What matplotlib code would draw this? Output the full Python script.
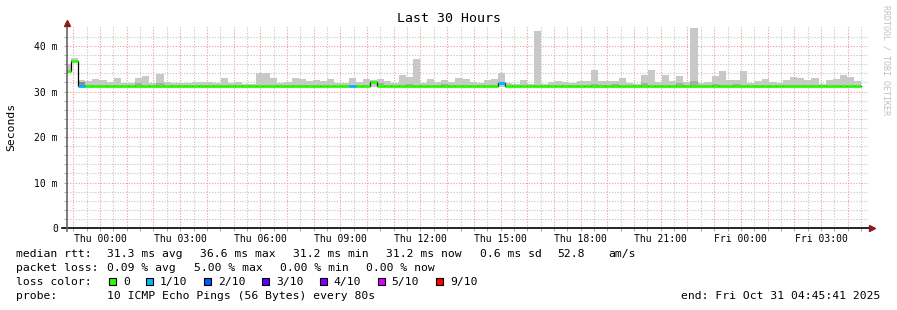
import matplotlib
matplotlib.use("Agg")
import matplotlib.pyplot as plt
import numpy as np
from matplotlib.patches import Rectangle

plt.rcParams['font.family'] = ['DejaVu Sans Mono', 'DejaVu Sans']

W, H = 897, 310

# ---- data: one value per 960 s bin (ms); bin 0 is the partial one at the left edge
BIN_H = 960 / 3600.0
FIRST_BIN_H = 0.15
SPAN_H = 30.0

smoke_hi = [
    36.0, 37.4, 32.5, 32.3, 32.75, 32.5, 32.1, 33.0, 31.8, 31.8,
    33.0, 33.4, 31.8, 33.85, 32.1, 31.8, 31.8, 31.8, 32.1, 32.1,
    32.1, 31.8, 33.0, 31.8, 32.1, 31.65, 31.65, 34.1, 34.1, 33.0,
    31.8, 32.1, 33.0, 32.75, 32.3, 32.5, 32.3, 32.75, 31.8, 31.8,
    33.0, 32.1, 32.75, 32.5, 32.75, 32.3, 31.8, 33.6, 33.2, 37.1,
    31.8, 32.75, 32.1, 32.5, 32.1, 33.0, 32.75, 32.1, 31.8, 32.5,
    32.75, 34.1, 31.8, 31.65, 32.5, 31.65, 43.2, 31.65, 32.1, 32.3,
    32.1, 31.8, 32.3, 32.3, 34.7, 32.3, 32.3, 32.3, 33.0, 31.8,
    31.65, 33.6, 34.7, 32.1, 33.6, 32.3, 33.4, 32.1, 44.0, 31.8,
    32.1, 33.4, 34.5, 32.5, 32.5, 34.4, 31.8, 32.3, 32.75, 32.1,
    31.8, 32.5, 33.2, 33.0, 32.5, 33.0, 31.65, 32.5, 32.75, 33.6,
    33.2, 32.3,
]
smoke_lo = [34.4, 36.5] + [31.0] * 110

median = [
    34.6, 36.6, 31.2, 31.2, 31.2, 31.2, 31.2, 31.2, 31.2, 31.2,
    31.2, 31.2, 31.2, 31.2, 31.2, 31.2, 31.2, 31.2, 31.2, 31.2,
    31.2, 31.2, 31.2, 31.2, 31.2, 31.2, 31.2, 31.2, 31.2, 31.2,
    31.2, 31.2, 31.2, 31.2, 31.2, 31.2, 31.2, 31.2, 31.2, 31.2,
    31.2, 31.2, 31.2, 32.0, 31.2, 31.2, 31.2, 31.2, 31.2, 31.2,
    31.2, 31.2, 31.2, 31.2, 31.2, 31.2, 31.2, 31.2, 31.2, 31.2,
    31.2, 31.9, 31.2, 31.2, 31.2, 31.2, 31.2, 31.2, 31.2, 31.2,
    31.2, 31.2, 31.2, 31.2, 31.2, 31.2, 31.2, 31.2, 31.2, 31.2,
    31.2, 31.2, 31.2, 31.2, 31.2, 31.2, 31.2, 31.2, 31.2, 31.2,
    31.2, 31.2, 31.2, 31.2, 31.2, 31.2, 31.2, 31.2, 31.2, 31.2,
    31.2, 31.2, 31.2, 31.2, 31.2, 31.2, 31.2, 31.2, 31.2, 31.2,
    31.2, 31.2,
]

# darker inner smoke (pings close to the median), top edge in ms
dark_hi = {2: 32.0, 10: 31.9, 13: 31.9, 44: 31.8, 48: 31.7, 53: 31.7,
           74: 31.7, 77: 31.7, 81: 31.8, 86: 31.8, 88: 32.3, 91: 31.7, 94: 31.7}

# loss class per bin (index into loss_colors); all zero except these bins
loss_bins = {2: 1, 40: 1, 61: 1}

loss_labels = ['0', '1/10', '2/10', '3/10', '4/10', '5/10', '9/10']
loss_colors = ['#26ff00', '#00b8ff', '#0059ff', '#5e00ff', '#7e00ff', '#dd00ff', '#ff0000']

tick_labels = ['Thu 00:00', 'Thu 03:00', 'Thu 06:00', 'Thu 09:00', 'Thu 12:00',
               'Thu 15:00', 'Thu 18:00', 'Thu 21:00', 'Fri 00:00', 'Fri 03:00']
FIRST_HOUR_H = 0.2386   # Wed 23:00, start is Wed 22:45:41

y_ticks = [0, 10, 20, 30, 40]
y_tick_labels = ['0', '10 m', '20 m', '30 m', '40 m']

# ---- figure
fig = plt.figure(figsize=(W / 100, H / 100), dpi=100)
fig.patch.set_facecolor('white')


def fx(x):
    return x / W


def fy(y):
    return 1 - y / H


ax = fig.add_axes([fx(67), fy(228), 801 / W, 202 / H])
ax.set_xlim(0, SPAN_H)
ax.set_ylim(0, 44.4)

n = len(smoke_hi)
edges = np.concatenate([[0.0], FIRST_BIN_H + BIN_H * np.arange(n)])
left = edges[:-1]
widths = np.diff(edges)
hi = np.array(smoke_hi)
lo = np.array(smoke_lo)
med = np.array(median)

ax.bar(left, hi - lo, bottom=lo, width=widths, align='edge',
       color='#c8c8c8', linewidth=0, zorder=2)
for k, top in dark_hi.items():
    ax.bar(left[k], top - med[k], bottom=med[k], width=widths[k], align='edge',
           color='#8c8c8c' if k == 2 else '#aaaaaa', linewidth=0, zorder=2)

ax.step(edges, np.append(med, med[-1]), where='post', color='black', lw=0.9, zorder=3)
cols = [loss_colors[loss_bins.get(k, 0)] for k in range(n)]
ax.hlines(med, left, edges[1:], colors=cols, lw=2.0, zorder=4, capstyle='butt')

# grid
hours = FIRST_HOUR_H + np.arange(0, 30)
half_hours = FIRST_HOUR_H + 0.5 + np.arange(0, 30)
ax.set_xticks(hours)
labels = [''] * len(hours)
for i, lab in enumerate(tick_labels):
    labels[1 + 3 * i] = lab
ax.set_xticklabels(labels, fontsize=7)
ax.set_xticks(half_hours[half_hours < SPAN_H], minor=True)
ax.set_yticks(y_ticks)
ax.set_yticklabels(y_tick_labels, fontsize=7)
ax.set_yticks(np.arange(2, 44, 2), minor=True)

ax.grid(which='major', color='#f09a9a', ls=(0, (1, 1.5)), lw=0.8)
ax.grid(which='minor', color='#c4c4c4', ls=(0, (1, 1.5)), lw=0.8)
ax.set_axisbelow(True)
ax.tick_params(which='both', length=2.5, width=0.6, color='#999999', pad=2)
ax.tick_params(axis='y', pad=4)

for s in ['top', 'right', 'left', 'bottom']:
    ax.spines[s].set_visible(False)

# axes with arrows
ax.plot([-5 / 801, 803 / 801], [0, 0], color='black', lw=1.2,
        transform=ax.transAxes, clip_on=False, zorder=5)
ax.plot([0, 0], [-3 / 202, 205 / 202], color='#666666', lw=1.2,
        transform=ax.transAxes, clip_on=False, zorder=5)
ax.plot([805 / 801], [0], marker='>', color='#8b1a1a', markersize=4,
        transform=ax.transAxes, clip_on=False, zorder=6)
ax.plot([0], [205 / 202], marker='^', color='#8b1a1a', markersize=4,
        transform=ax.transAxes, clip_on=False, zorder=6)

# titles
fig.text(0.5, fy(19), 'Last 30 Hours', ha='center', va='center', fontsize=9.5)
fig.text(fx(11), fy(127), 'Seconds', rotation=90, ha='center', va='center', fontsize=8.2)
fig.text(fx(886), fy(60), 'RRDTOOL / TOBI OETIKER', rotation=270, ha='center',
         va='center', fontsize=6, color='#c0c0c0')

# legend block
FS = 8.2
rows = [
    (254.3, [(16, 'median rtt:'), (107.3, '31.3 ms avg'), (200, '36.6 ms max'),
             (293.3, '31.2 ms min'), (386, '31.2 ms now'), (480, '0.6 ms sd'),
             (557, '52.8'), (608, 'am/s')]),
    (268.3, [(16, 'packet loss:'), (107.3, '0.09 % avg'), (193.5, '5.00 % max'),
             (279.5, '0.00 % min'), (365.7, '0.00 % now')]),
    (282.3, [(16, 'loss color:')]),
    (296, [(16, 'probe:'), (107.3, '10 ICMP Echo Pings (56 Bytes) every 80s')]),
]
for y, items in rows:
    for x, s in items:
        fig.text(fx(x), fy(y), s, ha='left', va='center', fontsize=FS)

box_x = [108.5, 146, 203.5, 262, 319.5, 377.5, 436]
lab_x = [123.3, 160, 218.3, 276, 333.3, 391.7, 450]
for bx, lx, c, lab in zip(box_x, lab_x, loss_colors, loss_labels):
    fig.add_artist(Rectangle((fx(bx), fy(285.3)), 7 / W, 7 / H, transform=fig.transFigure,
                             facecolor=c, edgecolor='black', lw=0.8))
    fig.text(fx(lx), fy(282.3), lab, ha='left', va='center', fontsize=FS)

fig.text(fx(880), fy(296), 'end: Fri Oct 31 04:45:41 2025', ha='right', va='center',
         fontsize=FS)

fig.savefig('out.png', dpi=100)
